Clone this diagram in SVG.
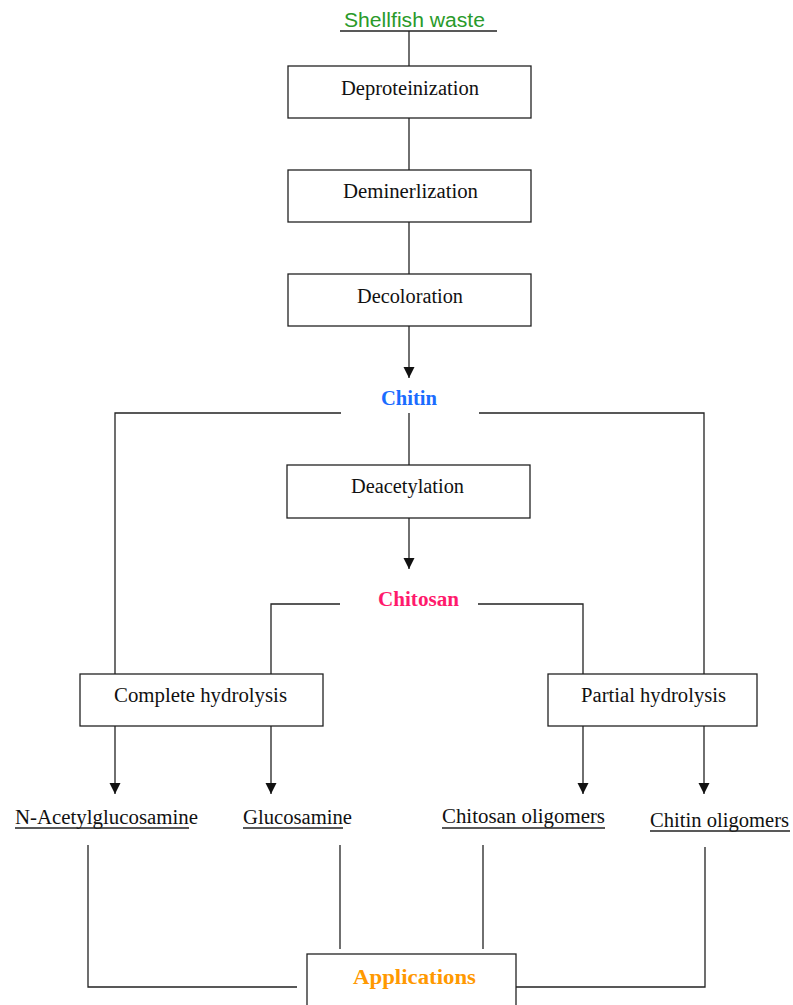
<svg xmlns="http://www.w3.org/2000/svg" width="793" height="1005" viewBox="0 0 793 1005">
<style>
.box{fill:#fff;stroke:#222;stroke-width:1.3}
.ln{fill:none;stroke:#222;stroke-width:1.3}
.t{font-family:"Liberation Serif","Times New Roman",serif;font-size:20px;fill:#111}
.c{text-anchor:middle}
.b{font-weight:bold}
</style>
<defs>
<marker id="arr" markerWidth="12" markerHeight="12" refX="11" refY="5.5" orient="auto" markerUnits="userSpaceOnUse">
<path d="M0,0 L11,5.5 L0,11 Z" fill="#111"/>
</marker>
</defs>
<rect width="793" height="1005" fill="#fff"/>
<g id="connectors">
<line class="ln" x1="409" y1="31" x2="409" y2="66"/>
<line class="ln" x1="409" y1="118" x2="409" y2="170"/>
<line class="ln" x1="409" y1="222" x2="409" y2="274"/>
<line class="ln" x1="409" y1="326" x2="409" y2="378" marker-end="url(#arr)"/>
<polyline class="ln" points="341,413 115,413 115,674"/>
<polyline class="ln" points="479,413 704,413 704,674"/>
<line class="ln" x1="409" y1="413" x2="409" y2="465"/>
<line class="ln" x1="409" y1="518" x2="409" y2="569" marker-end="url(#arr)"/>
<polyline class="ln" points="340,604 271,604 271,674"/>
<polyline class="ln" points="478,604 583,604 583,674"/>
<line class="ln" x1="115" y1="726" x2="115" y2="794" marker-end="url(#arr)"/>
<line class="ln" x1="271" y1="726" x2="271" y2="794" marker-end="url(#arr)"/>
<line class="ln" x1="583" y1="726" x2="583" y2="794" marker-end="url(#arr)"/>
<line class="ln" x1="704" y1="726" x2="704" y2="794" marker-end="url(#arr)"/>
<polyline class="ln" points="88,845 88,987 297,987"/>
<line class="ln" x1="340" y1="845" x2="340" y2="949"/>
<line class="ln" x1="483" y1="845" x2="483" y2="949"/>
<polyline class="ln" points="705,847 705,987 516,987"/>
</g>
<g id="shellfish">
<text x="344" y="27" font-family="Liberation Sans, Arial, sans-serif" font-size="20" fill="#2a9a2a" textLength="141" lengthAdjust="spacingAndGlyphs">Shellfish waste</text>
<line class="ln" x1="340" y1="31" x2="497" y2="31"/>
</g>
<g id="deproteinization">
<rect class="box" x="288" y="66" width="243" height="52"/>
<text class="t" x="341" y="95" textLength="138" lengthAdjust="spacingAndGlyphs">Deproteinization</text>
</g>
<g id="deminerlization">
<rect class="box" x="288" y="170" width="243" height="52"/>
<text class="t" x="343" y="198" textLength="135" lengthAdjust="spacingAndGlyphs">Deminerlization</text>
</g>
<g id="decoloration">
<rect class="box" x="288" y="274" width="243" height="52"/>
<text class="t" x="357" y="303" textLength="106" lengthAdjust="spacingAndGlyphs">Decoloration</text>
</g>
<g id="chitin">
<text class="t b" x="381" y="405" fill="#1a6cff" style="fill:#1a6cff" textLength="56" lengthAdjust="spacingAndGlyphs">Chitin</text>
</g>
<g id="deacetylation">
<rect class="box" x="287" y="465" width="243" height="53"/>
<text class="t" x="351" y="493" textLength="113" lengthAdjust="spacingAndGlyphs">Deacetylation</text>
</g>
<g id="chitosan">
<text class="t b" x="378" y="606" style="fill:#ff1a6c" textLength="81" lengthAdjust="spacingAndGlyphs">Chitosan</text>
</g>
<g id="complete-hydrolysis">
<rect class="box" x="80" y="674" width="243" height="52"/>
<text class="t" x="114" y="702" textLength="173" lengthAdjust="spacingAndGlyphs">Complete hydrolysis</text>
</g>
<g id="partial-hydrolysis">
<rect class="box" x="548" y="674" width="209" height="52"/>
<text class="t" x="581" y="702" textLength="145" lengthAdjust="spacingAndGlyphs">Partial hydrolysis</text>
</g>
<g id="n-acetylglucosamine">
<text class="t" x="15" y="824" textLength="183" lengthAdjust="spacingAndGlyphs">N-Acetylglucosamine</text>
<line class="ln" x1="15" y1="828" x2="189" y2="828"/>
</g>
<g id="glucosamine">
<text class="t" x="243" y="824" textLength="109" lengthAdjust="spacingAndGlyphs">Glucosamine</text>
<line class="ln" x1="243" y1="828" x2="343" y2="828"/>
</g>
<g id="chitosan-oligomers">
<text class="t" x="442" y="823" textLength="163" lengthAdjust="spacingAndGlyphs">Chitosan oligomers</text>
<line class="ln" x1="442" y1="828" x2="605" y2="828"/>
</g>
<g id="chitin-oligomers">
<text class="t" x="650" y="827" textLength="139" lengthAdjust="spacingAndGlyphs">Chitin oligomers</text>
<line class="ln" x1="650" y1="831" x2="790" y2="831"/>
</g>
<g id="applications">
<rect class="box" x="307" y="954" width="209" height="60"/>
<text class="t b" x="353" y="984" style="fill:#ff9900" font-size="21" textLength="123" lengthAdjust="spacingAndGlyphs">Applications</text>
</g>
</svg>
